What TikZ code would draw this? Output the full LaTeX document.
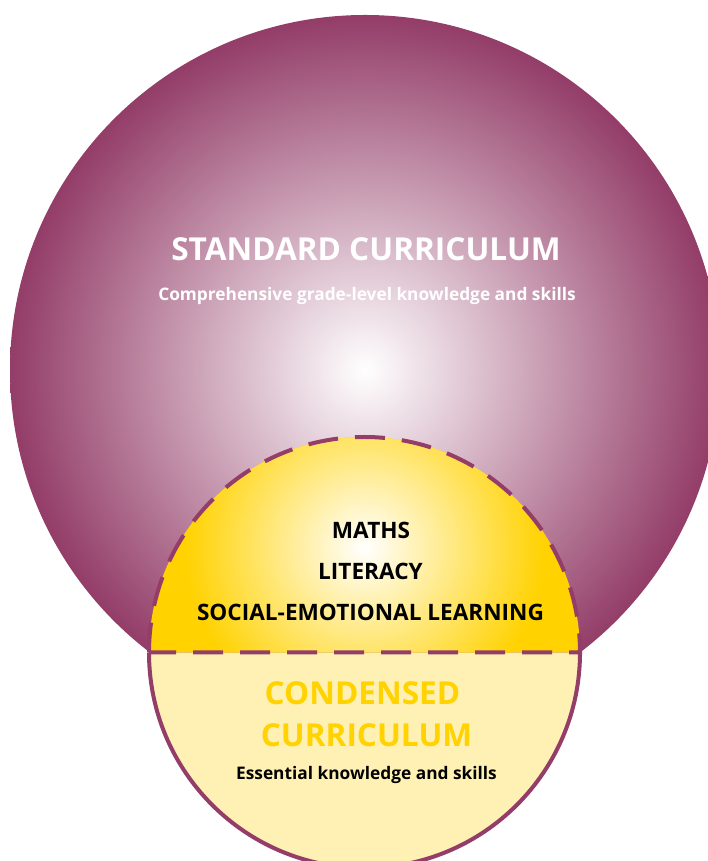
\documentclass[tikz,border=0pt]{standalone}
\usepackage{fontspec}
\setmainfont{Open Sans}
\definecolor{maroon}{RGB}{147,61,104}
\definecolor{gold}{RGB}{255,210,0}
\definecolor{cream}{RGB}{255,241,180}
\begin{document}
\begin{tikzpicture}[x=1pt, y=1pt,
  heading/.style = {font=\bfseries\fontsize{31.6}{32}\selectfont, text=white},
  subline/.style = {font=\bfseries\fontsize{17.3}{18}\selectfont},
  subject/.style = {font=\bfseries\fontsize{22.6}{23}\selectfont, text=black},
  rim/.style = {draw=maroon, line width=4pt}]
\clip (0,0) rectangle (708,861);
% standard curriculum
\shade[inner color=white, outer color=maroon] (365,491) circle (355);
% condensed curriculum
\fill[cream] (149,208.5) arc (180:360:215.5) -- cycle;
\fill[gold] (149,208.5) arc (180:0:215.5) -- cycle;
\begin{scope}
  \clip (149,208.5) arc (180:0:215.5) -- cycle;
  \shade[inner color=white, outer color=gold] (364.5,314) circle (180);
\end{scope}
\draw[rim] (149,208.5) arc (180:360:215.5);
\draw[rim, dash pattern=on 30pt off 17pt] (149,208.5) arc (180:0:215.5) -- cycle;

\node[heading] (std) at (366,612) {STANDARD CURRICULUM};
\node[subline, text=white] (stdtext) at (367,565) {Comprehensive grade-level knowledge and skills};
\node[subject] (maths) at (371,331) {MATHS};
\node[subject] (literacy) at (370.5,290) {LITERACY};
\node[subject] (sel) at (370.5,249) {SOCIAL-EMOTIONAL LEARNING};
\node[heading, text=gold] (cond) at (362.5,168) {CONDENSED};
\node[heading, text=gold] (condcur) at (366.5,126) {CURRICULUM};
\node[subline, text=black] (condtext) at (366.5,86) {Essential knowledge and skills};
\end{tikzpicture}
\end{document}
